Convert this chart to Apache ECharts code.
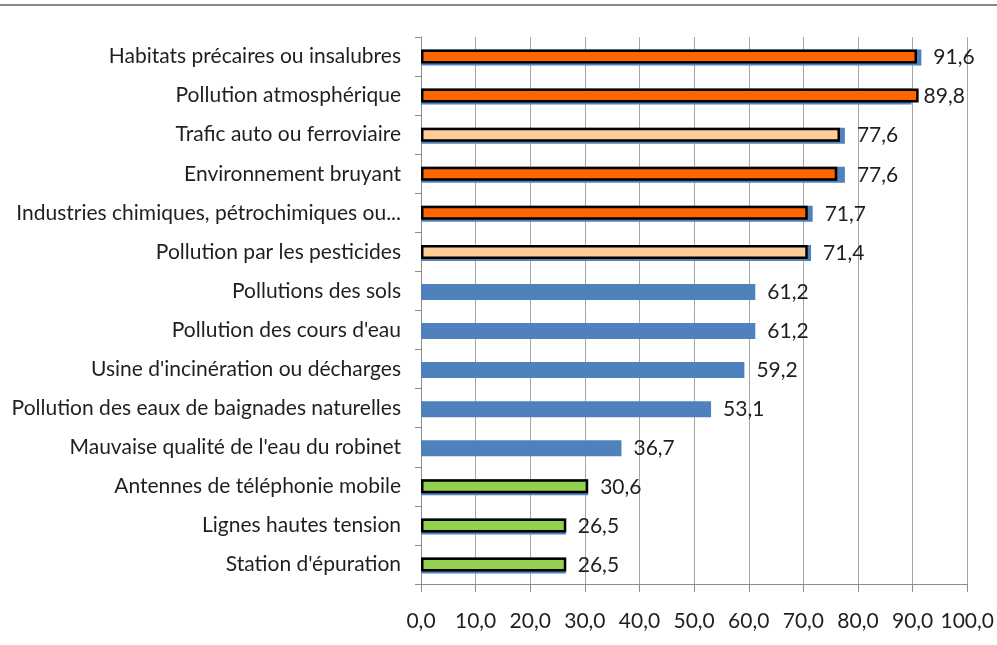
<!DOCTYPE html>
<html>
<head>
<meta charset="utf-8">
<script src="https://cdn.jsdelivr.net/npm/echarts@6/dist/echarts.min.js"></script>
<style>html,body{margin:0;padding:0;background:#fff;}#c{width:997px;height:645px;}</style>
</head>
<body>
<div id="c"></div>
<script>
const categories = [
  "Habitats précaires ou insalubres",
  "Pollution atmosphérique",
  "Trafic auto ou ferroviaire",
  "Environnement bruyant",
  "Industries chimiques, pétrochimiques ou...",
  "Pollution par les pesticides",
  "Pollutions des sols",
  "Pollution des cours d'eau",
  "Usine d'incinération ou décharges",
  "Pollution des eaux de baignades naturelles",
  "Mauvaise qualité de l'eau du robinet",
  "Antennes de téléphonie mobile",
  "Lignes hautes tension",
  "Station d'épuration"
];
const values = [91.6, 89.8, 77.6, 77.6, 71.7, 71.4, 61.2, 61.2, 59.2, 53.1, 36.7, 30.6, 26.5, 26.5];
// highlight overlay bars (drawn over the blue bars)
const highlightValues = [90.8, 91.1, 76.7, 76.2, 70.8, 70.8, null, null, null, null, null, 30.6, 26.6, 26.6];
const highlightGroups = ["high", "high", "mid", "high", "high", "mid", null, null, null, null, null, "low", "low", "low"];
const xTicks = [0, 10, 20, 30, 40, 50, 60, 70, 80, 90, 100];

const groupColors = { high: "#FF6600", mid: "#FFCC99", low: "#92D050" };
const FONT = "Lato";

const overlayData = highlightValues.map((v, i) => v == null ? '-' : {
  value: v,
  itemStyle: { color: groupColors[highlightGroups[i]] }
});

const chart = echarts.init(document.getElementById('c'));
chart.setOption({
  animation: false,
  backgroundColor: '#fff',
  grid: { left: 421, right: 29, top: 37, bottom: 61, containLabel: false },
  graphic: [{
    type: 'rect', shape: { x: 0, y: 4, width: 997, height: 2 }, style: { fill: '#888' }
  }],
  xAxis: {
    type: 'value', min: xTicks[0], max: xTicks[xTicks.length - 1], interval: 10,
    axisLine: { show: true, lineStyle: { color: '#8c8c8c', width: 1 } },
    axisTick: { show: true, length: 8, lineStyle: { color: '#8c8c8c' } },
    splitLine: { show: true, lineStyle: { color: '#a6a6a6', width: 1 } },
    axisLabel: {
      margin: 27, color: '#1f1f1f', fontFamily: FONT, fontSize: 21,
      formatter: v => v.toFixed(1).replace('.', ',')
    }
  },
  yAxis: {
    type: 'category', data: categories, inverse: true,
    axisLine: { show: true, lineStyle: { color: '#8c8c8c', width: 1 } },
    axisTick: { show: true, length: 6, inside: false, lineStyle: { color: '#8c8c8c' } },
    splitLine: { show: false },
    axisLabel: { margin: 20, color: '#1f1f1f', fontFamily: FONT, fontSize: 21 }
  },
  series: [
    {
      type: 'bar', data: values, barWidth: 16, z: 2,
      itemStyle: { color: '#4F81BD' },
      label: {
        show: true, position: 'right', distance: 12, color: '#1f1f1f',
        fontFamily: FONT, fontSize: 21,
        formatter: p => p.value.toFixed(1).replace('.', ',')
      }
    },
    {
      type: 'bar', data: overlayData, barWidth: 14, barGap: '-100%', z: 3,
      itemStyle: { borderColor: '#000', borderWidth: 2.5 }
    }
  ]
});
</script>
</body>
</html>
